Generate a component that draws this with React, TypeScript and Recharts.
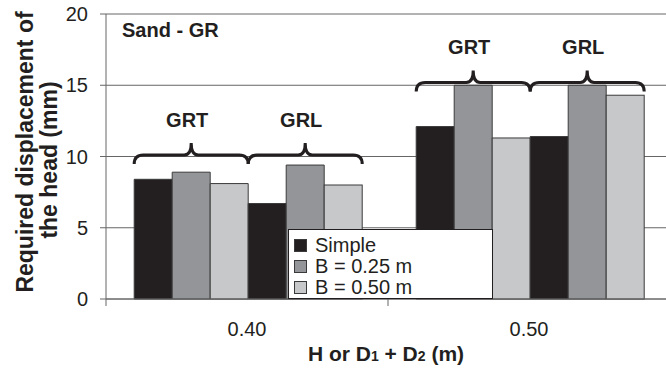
import { BarChart, Bar, XAxis, YAxis, CartesianGrid } from "recharts";

const categories = ["0.40", "0.50"];
const grtSimple = [8.4, 12.1];
const grtB25 = [8.9, 15.0];
const grtB50 = [8.1, 11.3];
const grlSimple = [6.7, 11.4];
const grlB25 = [9.4, 15.0];
const grlB50 = [8.0, 14.3];
const braceLevels = [10.1, 15.2];
const groupLabels = ["GRT", "GRL"];
const legendLabels = ["Simple", "B = 0.25 m", "B = 0.50 m"];
const yTicks = [0, 5, 10, 15, 20];

const COLORS = ["#231f20", "#939598", "#c7c8ca"];
const FONT = '"Liberation Sans", Arial, sans-serif';
const INK = "#231f20";
const EDGE = "#3a3a3a";

const CHART_W = 672;
const CHART_H = 378;
const Y_AXIS_W = 106;
const MARGIN = { top: 14, right: 2, left: 0, bottom: 0 };
const BAND = (CHART_W - Y_AXIS_W - MARGIN.right - MARGIN.left) / categories.length;

const data = categories.map((c, i) => ({
  cat: c,
  grtSimple: grtSimple[i],
  grtB25: grtB25[i],
  grtB50: grtB50[i],
  grlSimple: grlSimple[i],
  grlB25: grlB25[i],
  grlB50: grlB50[i],
}));

function bracePath(x0: number, x1: number, yb: number) {
  const xc = (x0 + x1) / 2;
  return `M ${x0} ${yb + 9} Q ${x0} ${yb} ${x0 + 9} ${yb} L ${xc - 7} ${yb} Q ${xc} ${yb} ${xc} ${yb - 12} Q ${xc} ${yb} ${xc + 7} ${yb} L ${x1 - 9} ${yb} Q ${x1} ${yb} ${x1} ${yb + 9}`;
}

// last series draws its rect plus the two braces of its category
function LastBarWithBraces(props: any) {
  const { x, y, width, height, index } = props;
  const bottom = y + height;
  const pxPerUnit = height / grlB50[index];
  const yb = bottom - braceLevels[index] * pxPerUnit;
  const spans = [
    [x - 5 * width, x - 2 * width],
    [x - 2 * width, x + width],
  ];
  return (
    <g>
      <rect x={x} y={y} width={width} height={height} fill={COLORS[2]} stroke={EDGE} strokeWidth={1} />
      {spans.map(([x0, x1], k) => (
        <g key={k}>
          <path d={bracePath(x0, x1, yb)} fill="none" stroke={INK} strokeWidth={3} />
          <text x={(x0 + x1) / 2 - 4} y={yb - 28} textAnchor="middle" fontFamily={FONT} fontWeight="bold" fontSize={20} fill={INK}>
            {groupLabels[k]}
          </text>
        </g>
      ))}
    </g>
  );
}

function XTick(props: any) {
  const { x, y, payload, index } = props;
  const axisY = y - 7 - 16;
  const left = x - BAND / 2;
  const right = x + BAND / 2;
  return (
    <g>
      <line x1={left} x2={left} y1={axisY} y2={axisY + 7} stroke="#666" />
      {index === categories.length - 1 && (
        <line x1={right} x2={right} y1={axisY} y2={axisY + 7} stroke="#666" />
      )}
      <text x={x} y={y} dy="0.71em" textAnchor="middle" fontFamily={FONT} fontSize={20} fill={INK}>
        {payload.value}
      </text>
    </g>
  );
}

function YLabel() {
  return (
    <g fontFamily={FONT} fontWeight="bold" fill={INK}>
      <text x={33} y={152} transform="rotate(-90, 33, 152)" textAnchor="middle" fontSize={23}>
        Required displacement of
      </text>
      <text x={57} y={160} transform="rotate(-90, 57, 160)" textAnchor="middle" fontSize={23}>
        the head (mm)
      </text>
      <text x={122} y={37} fontSize={20}>Sand - GR</text>
    </g>
  );
}

function XLabel() {
  return (
    <text x={386} y={361} textAnchor="middle" fontFamily={FONT} fontWeight="bold" fontSize={21} fill={INK}>
      H or D<tspan fontSize={14}>1</tspan> + D<tspan fontSize={14}>2</tspan> (m)
    </text>
  );
}

export default function App() {
  return (
    <div style={{ position: "absolute", left: 0, top: 0, width: 666, height: 378, overflow: "hidden", background: "#fff" }}>
      <BarChart width={CHART_W} height={CHART_H} data={data} margin={MARGIN} barGap={0}>
        <CartesianGrid vertical={false} stroke="#666" />
        <XAxis
          dataKey="cat"
          height={79}
          tickSize={7}
          tickMargin={16}
          tickLine={false}
          axisLine={{ stroke: "#666" }}
          tick={<XTick />}
          label={{ content: <XLabel /> }}
        />
        <YAxis
          domain={[0, 20]}
          ticks={yTicks}
          width={Y_AXIS_W}
          tickSize={6}
          tickMargin={12}
          axisLine={{ stroke: "#666" }}
          tickLine={{ stroke: "#666" }}
          tick={{ fill: INK, fontSize: 20, fontFamily: FONT }}
          label={{ content: <YLabel /> }}
        />
        <Bar dataKey="grtSimple" fill={COLORS[0]} stroke={EDGE} isAnimationActive={false} />
        <Bar dataKey="grtB25" fill={COLORS[1]} stroke={EDGE} isAnimationActive={false} />
        <Bar dataKey="grtB50" fill={COLORS[2]} stroke={EDGE} isAnimationActive={false} />
        <Bar dataKey="grlSimple" fill={COLORS[0]} stroke={EDGE} isAnimationActive={false} />
        <Bar dataKey="grlB25" fill={COLORS[1]} stroke={EDGE} isAnimationActive={false} />
        <Bar dataKey="grlB50" fill={COLORS[2]} stroke={EDGE} isAnimationActive={false} shape={<LastBarWithBraces />} />
      </BarChart>
      <div
        style={{
          position: "absolute",
          left: 288,
          top: 229,
          width: 203,
          padding: "5px 0 0 0",
          background: "#fff",
          border: `1px solid ${INK}`,
          fontFamily: FONT,
          fontSize: 20,
          lineHeight: "21px",
          color: INK,
        }}
      >
        {legendLabels.map((l, i) => (
          <div key={l} style={{ display: "flex", alignItems: "center", height: 21 }}>
            <span
              style={{
                display: "inline-block",
                width: 11,
                height: 11,
                marginLeft: 5,
                marginRight: 8,
                background: COLORS[i],
                border: `1px solid ${EDGE}`,
              }}
            />
            <span>{l}</span>
          </div>
        ))}
      </div>
    </div>
  );
}
